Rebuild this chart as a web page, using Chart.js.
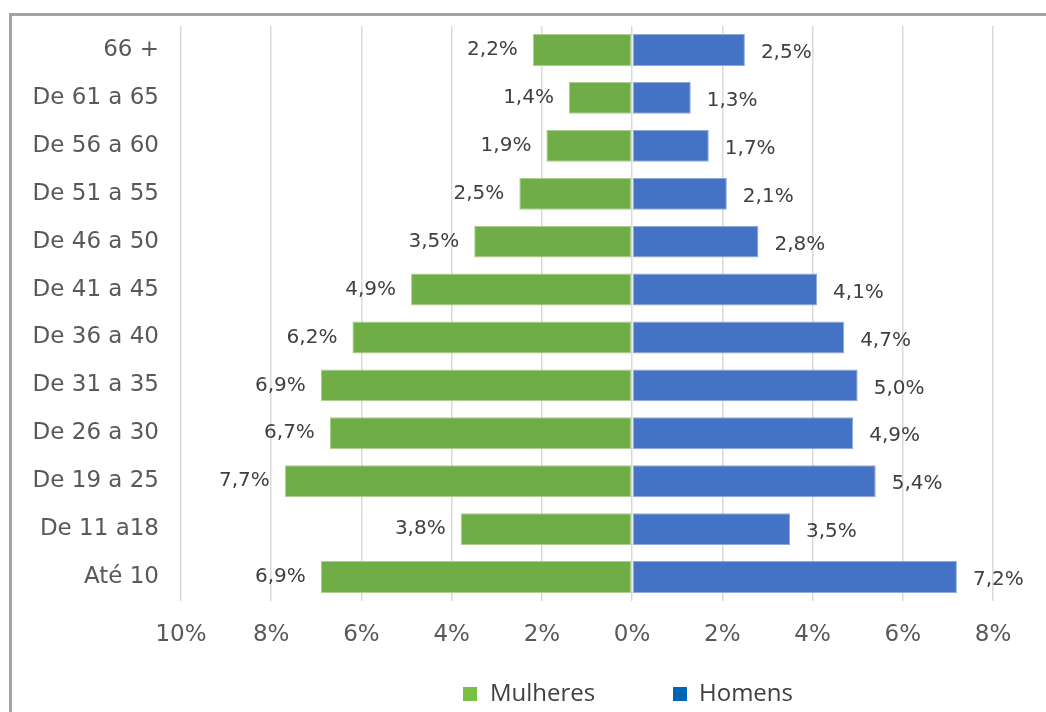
<!DOCTYPE html>
<html>
<head>
<meta charset="utf-8">
<script src="https://cdn.jsdelivr.net/npm/chart.js@4.4.1/dist/chart.umd.min.js"></script>
<style>
  html, body { margin: 0; padding: 0; background: #fff; overflow: hidden; }
  #wrap { position: relative; width: 1046px; height: 712px; }
  #frame { position: absolute; left: 9px; top: 13px; width: 1100px; height: 800px; border: 3px solid #a3a3a3; box-sizing: border-box; pointer-events: none; }
  canvas { position: absolute; left: 0; top: 0; }
  .lg { position: absolute; font-family: "Open Sans", sans-serif; font-size: 24px; color: #404040; line-height: 1; }
  .sq { position: absolute; width: 14px; height: 14px; }
</style>
</head>
<body>
<div id="wrap">
  <canvas id="c" width="1046" height="712"></canvas>
  <div id="frame"></div>
  <div class="sq" style="left:463px;top:687px;background:#7ac143"></div>
  <div class="lg" style="left:490px;top:680px">Mulheres</div>
  <div class="sq" style="left:673px;top:687px;background:#0066b3"></div>
  <div class="lg" style="left:699px;top:680px">Homens</div>
</div>
<script>
const categories = ["66 +", "De 61 a 65", "De 56 a 60", "De 51 a 55", "De 46 a 50", "De 41 a 45", "De 36 a 40", "De 31 a 35", "De 26 a 30", "De 19 a 25", "De 11 a18", "Até 10"];
const mulheres = [2.2, 1.4, 1.9, 2.5, 3.5, 4.9, 6.2, 6.9, 6.7, 7.7, 3.8, 6.9];
const homens = [2.5, 1.3, 1.7, 2.1, 2.8, 4.1, 4.7, 5.0, 4.9, 5.4, 3.5, 7.2];
const xTicks = [-10, -8, -6, -4, -2, 0, 2, 4, 6, 8];

const fmt = v => Math.abs(v).toFixed(1).replace('.', ',') + '%';

const labelPlugin = {
  id: 'barLabels',
  afterDatasetsDraw(chart) {
    const ctx = chart.ctx;
    ctx.save();
    ctx.font = '20px "DejaVu Sans"';
    ctx.fillStyle = '#404040';
    ctx.textBaseline = 'middle';
    chart.data.datasets.forEach((ds, di) => {
      const meta = chart.getDatasetMeta(di);
      meta.data.forEach((el, i) => {
        const v = ds.data[i];
        if (v < 0) {
          ctx.textAlign = 'right';
          ctx.fillText(fmt(v), el.x - 15, el.y);
        } else {
          ctx.textAlign = 'left';
          ctx.fillText(fmt(v), el.x + 16, el.y + 3);
        }
      });
    });
    ctx.restore();
  }
};

new Chart(document.getElementById('c'), {
  type: 'bar',
  data: {
    labels: categories,
    datasets: [
      {
        label: 'Mulheres',
        data: mulheres.map(v => -v),
        backgroundColor: '#70ad47',
        borderColor: '#a9d08e',
        borderWidth: 1,
        borderSkipped: false
      },
      {
        label: 'Homens',
        data: homens,
        backgroundColor: '#4472c4',
        borderColor: '#8eaadb',
        borderWidth: 1,
        borderSkipped: false
      }
    ]
  },
  options: {
    indexAxis: 'y',
    responsive: false,
    animation: false,
    events: [],
    layout: { padding: { left: 0, right: 53, top: 26, bottom: 0 } },
    datasets: { bar: { barPercentage: 0.667, categoryPercentage: 1.0 } },
    plugins: { legend: { display: false }, tooltip: { enabled: false } },
    scales: {
      x: {
        stacked: true,
        min: -10,
        max: 8,
        afterBuildTicks(scale) { scale.ticks = xTicks.map(v => ({ value: v })); },
        afterFit(scale) { scale.height = 111; },
        grid: { color: '#d9d9d9', lineWidth: 1.5, drawTicks: false },
        border: { display: false },
        ticks: {
          padding: 20,
          color: '#595959',
          font: { family: 'DejaVu Sans', size: 23 },
          callback: v => Math.abs(v) + '%'
        }
      },
      y: {
        stacked: true,
        afterFit(scale) { scale.width = 181; scale.paddingTop = 0; scale.paddingBottom = 0; },
        grid: { display: false, drawTicks: false },
        border: { display: false },
        ticks: {
          padding: 22,
          color: '#595959',
          font: { family: 'DejaVu Sans', size: 23 }
        }
      }
    }
  },
  plugins: [labelPlugin]
});
</script>
</body>
</html>
